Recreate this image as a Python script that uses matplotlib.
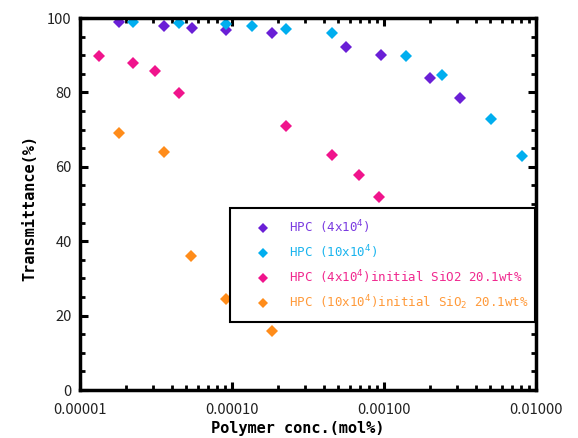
import matplotlib
matplotlib.use("Agg")
import matplotlib.pyplot as plt
from matplotlib.ticker import LogLocator, FixedLocator, MultipleLocator, NullFormatter

# Data
hpc4_x = [1.81e-5, 3.59e-5, 5.43e-5, 9.09e-5, 1.82e-4, 5.62e-4, 9.5e-4, 2.02e-3, 3.18e-3]
hpc4_y = [98.9, 97.8, 97.4, 96.8, 96.1, 92.3, 90.0, 83.9, 78.4]

hpc10_x = [2.24e-5, 4.5e-5, 9.09e-5, 1.35e-4, 2.27e-4, 4.55e-4, 1.4e-3, 2.4e-3, 5.04e-3, 8.05e-3]
hpc10_y = [98.9, 98.7, 98.5, 97.9, 97.1, 95.9, 89.8, 84.7, 72.9, 62.8]

hpc4si_x = [1.34e-5, 2.24e-5, 3.13e-5, 4.48e-5, 2.28e-4, 4.55e-4, 6.85e-4, 9.23e-4]
hpc4si_y = [89.8, 87.8, 85.75, 79.8, 71.0, 63.2, 57.8, 51.8]

hpc10si_x = [1.81e-5, 3.59e-5, 5.37e-5, 9.09e-5, 1.83e-4]
hpc10si_y = [69.1, 64.0, 35.9, 24.5, 15.9]

labels = [r"HPC (4x10$^4$)", r"HPC (10x10$^4$)",
          r"HPC (4x10$^4$)initial SiO2 20.1wt%",
          r"HPC (10x10$^4$)initial SiO$_2$ 20.1wt%"]
marker_colors = ["#6A1FD6", "#00AEEF", "#F0148C", "#FF8C1A"]
text_colors = ["#7A3BE0", "#1AB4EE", "#F0288F", "#FF9A3A"]

xticks = [1e-5, 1e-4, 1e-3, 1e-2]
xticklabels = ["0.00001", "0.00010", "0.00100", "0.01000"]
yticks = [0, 20, 40, 60, 80, 100]

fig = plt.figure(figsize=(5.78, 4.38), dpi=100)
ax = fig.add_axes([80/578, 48/438, 456/578, 372/438])

series = [(hpc4_x, hpc4_y), (hpc10_x, hpc10_y), (hpc4si_x, hpc4si_y), (hpc10si_x, hpc10si_y)]
for (xs, ys), c, lab in zip(series, marker_colors, labels):
    ax.plot(xs, ys, linestyle="none", marker="D", markersize=6.5, color=c,
            markeredgewidth=0, label=lab)

ax.set_xscale("log")
ax.set_xlim(1e-5, 1e-2)
ax.set_ylim(0, 100)
ax.xaxis.set_major_locator(FixedLocator(xticks))
ax.set_xticklabels(xticklabels)
ax.xaxis.set_minor_locator(LogLocator(base=10, subs=range(2, 10)))
ax.xaxis.set_minor_formatter(NullFormatter())
ax.yaxis.set_major_locator(FixedLocator(yticks))
ax.yaxis.set_minor_locator(MultipleLocator(5))

for s in ax.spines.values():
    s.set_linewidth(2.5)
ax.tick_params(which="both", direction="in", top=True, right=True)
ax.tick_params(which="major", length=6, width=2.2, labelsize=10.5)
ax.tick_params(which="minor", length=3.5, width=2.0)
ax.tick_params(axis="x", which="major", pad=9)
ax.tick_params(axis="y", which="major", pad=6)
for t in ax.get_xticklabels() + ax.get_yticklabels():
    t.set_family(["Noto Sans CJK JP", "DejaVu Sans"])
    t.set_color("#222222")

ax.set_xlabel("Polymer conc.(mol%)", fontsize=11, fontweight="bold",
              family="DejaVu Sans Mono")
ax.set_ylabel("Transmittance(%)", fontsize=11, fontweight="bold",
              family="DejaVu Sans Mono")
ax.xaxis.set_label_coords(0.477, -0.082)
ax.yaxis.set_label_coords(-0.094, 0.49)

leg = ax.legend(loc="upper left", bbox_to_anchor=(0.329, 0.489, 0.669, 0.0),
                mode="expand", frameon=True, fancybox=False, edgecolor="black",
                framealpha=1, borderaxespad=0, handlelength=3.6, handletextpad=0.35,
                labelspacing=0.6, borderpad=0.8, markerscale=0.85,
                prop={"family": "DejaVu Sans Mono", "size": 9},
                labelcolor=text_colors)
leg.get_frame().set_linewidth(1.5)

fig.savefig("out.png", dpi=100)
